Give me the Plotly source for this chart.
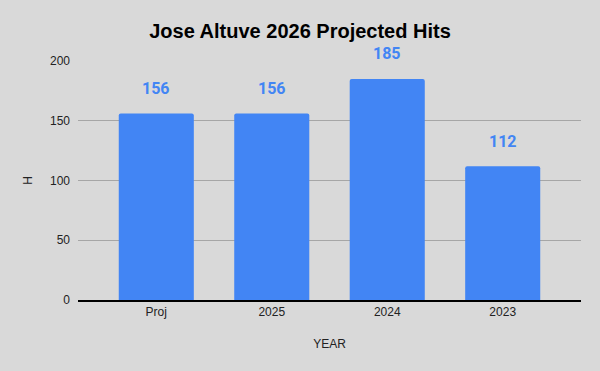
import plotly.graph_objects as go

years = ["Proj", "2025", "2024", "2023"]
hits = [156, 156, 185, 112]
labels = ["156", "156", "185", "112"]

BLUE = "#4285f4"
BG = "#d9d9d9"

fig = go.Figure()
fig.add_trace(go.Bar(
    x=years, y=hits,
    marker=dict(color=BLUE, line=dict(width=0), cornerradius=2),
    width=0.65,
    hoverinfo="skip",
))

for i, (y, t) in enumerate(zip(hits, labels)):
    fig.add_annotation(x=i, y=y, text="<b>%s</b>" % t, showarrow=False,
                       xref="x", yref="y",
                       yshift=25, yanchor="middle",
                       font=dict(family="Roboto", size=16, color=BLUE))

fig.update_layout(
    width=600, height=371,
    paper_bgcolor=BG, plot_bgcolor=BG,
    margin=dict(l=78, r=19, t=61, b=71),
    showlegend=False,
    title=dict(text="<b>Jose Altuve 2026 Projected Hits</b>", x=0.5, xanchor="center",
               y=1 - 31/371, yref="container", yanchor="middle",
               font=dict(family="Liberation Sans, Arial", size=20, color="#000000")),
    font=dict(family="Liberation Sans, Arial", size=12, color="#222222"),
)

fig.update_xaxes(
    type="category",
    range=[-0.678, 3.678], showgrid=False, ticks="",
    showline=True, linecolor="#000000", linewidth=1.5,
    title=dict(text="YEAR", font=dict(size=12, color="#222222"), standoff=21),
    tickfont=dict(size=12, color="#222222"),
)
fig.update_yaxes(
    range=[0, 200], tickvals=[0, 50, 100, 150, 200],
    showgrid=True, gridcolor="#a6a6a6", gridwidth=1,
    zeroline=False, showline=False, ticks="",
    ticklabelstandoff=7,
    title=dict(text="H", font=dict(size=12, color="#222222"), standoff=14),
    tickfont=dict(size=12, color="#222222"),
)

fig.write_html("out.html", config={"displayModeBar": False},
               post_script="document.body.style.margin='0';")
